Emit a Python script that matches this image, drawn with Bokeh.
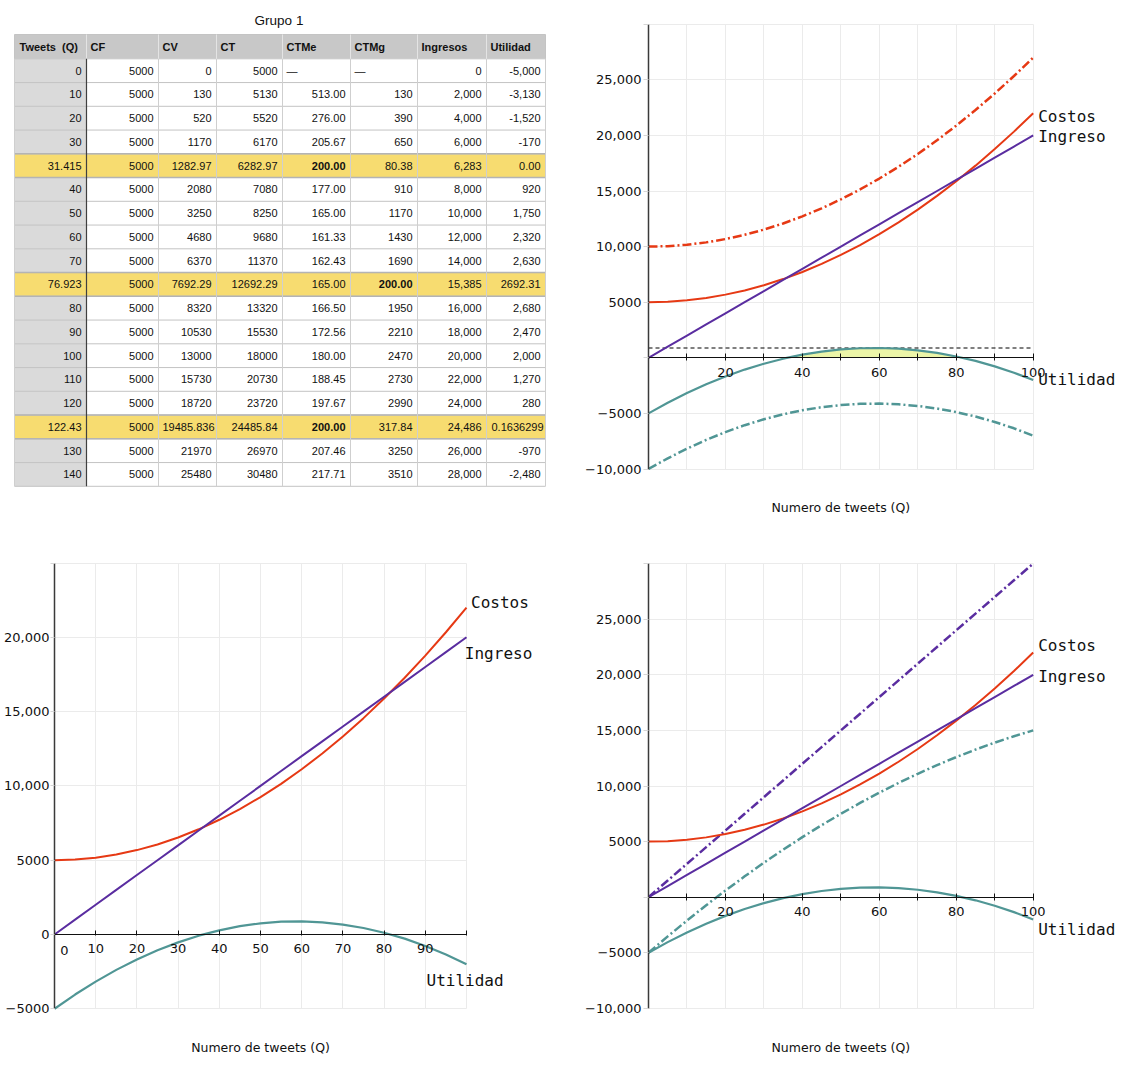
import numpy as np
from bokeh.plotting import figure
from bokeh.models import Range1d, FixedTicker, Label
from bokeh.layouts import row, column
from bokeh.embed import file_html
from bokeh.resources import INLINE
from bokeh.core.properties import value

# ------------------------------------------------------------------ table data
table_title = "Grupo 1"
table_headers = ["Tweets\u00a0\u00a0(Q)", "CF", "CV", "CT", "CTMe", "CTMg", "Ingresos", "Utilidad"]
tweets_q = ["0", "10", "20", "30", "31.415", "40", "50", "60", "70", "76.923",
            "80", "90", "100", "110", "120", "122.43", "130", "140"]
cf = ["5000"] * 18
cv = ["0", "130", "520", "1170", "1282.97", "2080", "3250", "4680", "6370", "7692.29",
      "8320", "10530", "13000", "15730", "18720", "19485.836", "21970", "25480"]
ct = ["5000", "5130", "5520", "6170", "6282.97", "7080", "8250", "9680", "11370", "12692.29",
      "13320", "15530", "18000", "20730", "23720", "24485.84", "26970", "30480"]
ctme = ["—", "513.00", "276.00", "205.67", "200.00", "177.00", "165.00", "161.33", "162.43", "165.00",
        "166.50", "172.56", "180.00", "188.45", "197.67", "200.00", "207.46", "217.71"]
ctmg = ["—", "130", "390", "650", "80.38", "910", "1170", "1430", "1690", "200.00",
        "1950", "2210", "2470", "2730", "2990", "317.84", "3250", "3510"]
ingresos_tab = ["0", "2,000", "4,000", "6,000", "6,283", "8,000", "10,000", "12,000", "14,000", "15,385",
                "16,000", "18,000", "20,000", "22,000", "24,000", "24,486", "26,000", "28,000"]
utilidad_tab = ["-5,000", "-3,130", "-1,520", "-170", "0.00", "920", "1,750", "2,320", "2,630", "2692.31",
                "2,680", "2,470", "2,000", "1,270", "280", "0.1636299", "-970", "-2,480"]
highlight_rows = [4, 9, 15]
bold_cells = [(4, 4), (9, 5), (15, 4)]

# ------------------------------------------------------------------ chart data
Q = [0, 5, 10, 15, 20, 25, 30, 35, 40, 45, 50, 55, 60, 65, 70, 75, 80, 85, 90, 95, 100]
costos = [5000, 5040, 5170, 5380, 5680, 6060, 6530, 7080, 7720, 8440, 9250,
          10140, 11120, 12180, 13330, 14560, 15880, 17280, 18770, 20340, 22000]
ingreso = [0, 1000, 2000, 3000, 4000, 5000, 6000, 7000, 8000, 9000, 10000,
           11000, 12000, 13000, 14000, 15000, 16000, 17000, 18000, 19000, 20000]
utilidad = [-5000, -4040, -3170, -2380, -1680, -1060, -530, -80, 280, 560, 750,
            860, 880, 820, 670, 440, 120, -280, -770, -1340, -2000]
costos_alto = [10000, 10040, 10170, 10380, 10680, 11060, 11530, 12080, 12720, 13440, 14250,
               15140, 16120, 17180, 18330, 19560, 20880, 22280, 23770, 25340, 27000]
utilidad_baja = [-10000, -9040, -8170, -7380, -6680, -6060, -5530, -5080, -4720, -4440, -4250,
                 -4140, -4120, -4180, -4330, -4560, -4880, -5280, -5770, -6340, -7000]
ingreso_alto = [0, 1500, 3000, 4500, 6000, 7500, 9000, 10500, 12000, 13500, 15000,
                16500, 18000, 19500, 21000, 22500, 24000, 25500, 27000, 28500, 30000]
utilidad_alta = [-5000, -3525, -2100, -725, 600, 1875, 3100, 4275, 5400, 6475, 7500,
                 8475, 9400, 10275, 11100, 11875, 12600, 13275, 13900, 14475, 15000]
utilidad_max = 880

x_ticks = [0, 10, 20, 30, 40, 50, 60, 70, 80, 90, 100]
x_tick_labels_a = {20: "20", 40: "40", 60: "60", 80: "80", 100: "100"}
x_tick_labels_b = {10: "10", 20: "20", 30: "30", 40: "40", 50: "50", 60: "60", 70: "70", 80: "80", 90: "90"}
y_ticks_a = [-10000, -5000, 0, 5000, 10000, 15000, 20000, 25000, 30000]
y_tick_labels_a = {-10000: "−10,000", -5000: "−5000", 5000: "5000", 10000: "10,000",
                   15000: "15,000", 20000: "20,000", 25000: "25,000"}
y_ticks_b = [-5000, 0, 5000, 10000, 15000, 20000, 25000]
y_tick_labels_b = {-5000: "−5000", 0: "0", 5000: "5000", 10000: "10,000",
                   15000: "15,000", 20000: "20,000"}
x_title = "Numero de tweets (Q)"

ROJO = "#e63914"
MORADO = "#5a2da0"
VERDE = "#509695"
RELLENO = "#ecf5a8"
GRID = "#ebebeb"
DASHDOT = "9 3 2 3"
AXIS_FONT = "DejaVu Sans"
MONO = "DejaVu Sans Mono"

# ------------------------------------------------------------------ table figure
TOP_H, BOT_H, LEFT_W, RIGHT_W = 548, 540, 580, 562
tp = figure(width=LEFT_W, height=TOP_H, x_range=Range1d(0, LEFT_W), y_range=Range1d(TOP_H, 0),
            output_backend="svg", toolbar_location=None, x_axis_type=None, y_axis_type=None,
            min_border=0, outline_line_color=None)
tp.grid.visible = False

col_edges = [14, 86, 158, 216, 282, 350, 417, 486, 545]
head_top, head_bottom, row_h = 34.0, 58.3, 23.75
columns_data = [tweets_q, cf, cv, ct, ctme, ctmg, ingresos_tab, utilidad_tab]
n_rows = len(tweets_q)
table_bottom = head_bottom + n_rows * row_h

tp.quad(left=[col_edges[0]], right=[col_edges[-1]], top=[head_top], bottom=[head_bottom],
        fill_color="#c8c8c8", line_color=None)
cl, cr, ctp, cb, ccol = [], [], [], [], []
for i in range(n_rows):
    for j in range(len(columns_data)):
        cl.append(col_edges[j]); cr.append(col_edges[j + 1])
        ctp.append(head_bottom + i * row_h); cb.append(head_bottom + (i + 1) * row_h)
        if i in highlight_rows:
            ccol.append("#f7dc70")
        elif j == 0:
            ccol.append("#dadada")
        else:
            ccol.append("#ffffff")
tp.quad(left=cl, right=cr, top=ctp, bottom=cb, fill_color=ccol, line_color=None)

hy = [head_top, head_bottom] + [head_bottom + (i + 1) * row_h for i in range(n_rows)]
tp.segment(x0=[col_edges[0]] * len(hy), x1=[col_edges[-1]] * len(hy), y0=hy, y1=hy,
           line_color="#c4c4c4", line_width=1)
hl_y = []
for i in highlight_rows:
    hl_y += [head_bottom + i * row_h, head_bottom + (i + 1) * row_h]
tp.segment(x0=[col_edges[0]] * len(hl_y), x1=[col_edges[-1]] * len(hl_y), y0=hl_y, y1=hl_y,
           line_color="#b4b4b4", line_width=1.5)
tp.segment(x0=col_edges, x1=col_edges, y0=[head_bottom] * len(col_edges), y1=[table_bottom] * len(col_edges),
           line_color="#cfcfcf", line_width=1)
tp.segment(x0=col_edges[1:-1], x1=col_edges[1:-1], y0=[head_top] * 7, y1=[head_bottom] * 7,
           line_color="#e4e4e4", line_width=1)
tp.segment(x0=[col_edges[0], col_edges[-1]], x1=[col_edges[0], col_edges[-1]], y0=[head_top] * 2,
           y1=[head_bottom] * 2, line_color="#c4c4c4", line_width=1)
tp.segment(x0=[col_edges[1]], x1=[col_edges[1]], y0=[head_bottom], y1=[table_bottom],
           line_color="#404040", line_width=1.2)

tp.text(x=[(col_edges[0] + col_edges[-1]) / 2 - 1], y=[20], text=[table_title], text_align="center",
        text_baseline="middle", text_font=value("Liberation Sans"), text_font_size="13.5px", text_color="#111111")
tp.text(x=[col_edges[0] + 5] + [e + 4 for e in col_edges[1:-1]], y=[(head_top + head_bottom) / 2] * 8,
        text=table_headers, text_align="left", text_baseline="middle", text_font=value("Liberation Sans"),
        text_font_size="11px", text_font_style="bold", text_color="#111111")
nx, ny, nt, bx, by, bt, lx, ly, lt = [], [], [], [], [], [], [], [], []
for i in range(n_rows):
    yc = head_bottom + (i + 0.5) * row_h
    for j, col in enumerate(columns_data):
        s = col[i]
        if s == "—":
            lx.append(col_edges[j] + 4); ly.append(yc); lt.append(s)
        elif (i, j) in bold_cells:
            bx.append(col_edges[j + 1] - 5); by.append(yc); bt.append(s)
        else:
            nx.append(col_edges[j + 1] - (2 if len(s) > 8 else 5)); ny.append(yc); nt.append(s)
tp.text(x=nx, y=ny, text=nt, text_align="right", text_baseline="middle", text_font=value("Liberation Sans"),
        text_font_size="11px", text_color="#111111")
tp.text(x=bx, y=by, text=bt, text_align="right", text_baseline="middle", text_font=value("Liberation Sans"),
        text_font_size="11px", text_font_style="bold", text_color="#111111")
tp.text(x=lx, y=ly, text=lt, text_align="left", text_baseline="middle", text_font=value("Liberation Sans"),
        text_font_size="11px", text_color="#111111")


# ------------------------------------------------------------------ chart helper
def make_chart(width, height, left_px, x_px_per_unit, zero_px, y_px_per_unit, yticks, ylabels, xlabels,
               y_tick_out, y_standoff, x_tick_out, x_standoff):
    frame_w = width - left_px
    x_end = frame_w / x_px_per_unit
    y_end = zero_px / y_px_per_unit
    y_start = -(height - zero_px) / y_px_per_unit
    p = figure(width=width, height=height, x_range=Range1d(0, x_end), y_range=Range1d(y_start, y_end),
               output_backend="svg", toolbar_location=None, outline_line_color=None,
               min_border_left=left_px, min_border_right=0, min_border_top=0, min_border_bottom=0)
    p.xaxis.ticker = FixedTicker(ticks=x_ticks)
    p.yaxis.ticker = FixedTicker(ticks=yticks)
    p.xgrid.ticker = FixedTicker(ticks=x_ticks)
    p.ygrid.ticker = FixedTicker(ticks=yticks)
    p.xgrid.cross_bounds = (yticks[0], yticks[-1])
    p.ygrid.cross_bounds = (x_ticks[0], x_ticks[-1])
    p.grid.grid_line_color = GRID
    p.grid.grid_line_width = 1
    p.xaxis.bounds = (x_ticks[0], x_ticks[-1])
    p.yaxis.bounds = (yticks[0], yticks[-1])
    p.xaxis.major_label_overrides = {t: xlabels.get(t, "") for t in x_ticks}
    p.yaxis.major_label_overrides = {t: ylabels.get(t, "") for t in yticks}
    p.xaxis.fixed_location = 0
    p.xaxis.axis_line_color = "#111111"
    p.xaxis.axis_line_width = 1
    p.xaxis.major_tick_line_color = "#111111"
    p.xaxis.major_tick_in = 4
    p.xaxis.major_tick_out = x_tick_out
    p.xaxis.minor_tick_line_color = None
    p.xaxis.major_label_standoff = x_standoff
    p.yaxis.axis_line_color = "#3a3a3a"
    p.yaxis.axis_line_width = 1.5
    p.yaxis.major_tick_line_color = "#d6d6d6"
    p.yaxis.major_tick_in = 0
    p.yaxis.major_tick_out = y_tick_out
    p.yaxis.minor_tick_line_color = None
    p.yaxis.major_label_standoff = y_standoff
    for ax in (p.xaxis, p.yaxis):
        ax.major_label_text_font = AXIS_FONT
        ax.major_label_text_font_size = "13px"
        ax.major_label_text_color = "#111111"
    return p


def tag(p, x, y, text, size="16px", font=MONO, align="left"):
    p.add_layout(Label(x=x, y=y, text=text, text_font=font, text_font_size=size,
                       text_baseline="middle", text_align=align, text_color="#111111"))


PPU_A = 55.6 / 5000     # px per y unit, charts on the right
PPU_B = 74.3 / 5000     # px per y unit, chart bottom-left

# ------------------------------------------------------------------ chart 1 (top right)
p1 = make_chart(RIGHT_W, TOP_H, 68, 3.847, 357.3, PPU_A, y_ticks_a, y_tick_labels_a, x_tick_labels_a, 5, 2, 3, 7)
p1.varea(x=Q, y1=0, y2=list(np.maximum(np.array(utilidad), 0)), fill_color=RELLENO)
p1.line(Q, [utilidad_max] * len(Q), line_color="#000000", line_width=1.2, line_dash="4 3")
p1.line(Q, costos_alto, line_color=ROJO, line_width=2.5, line_dash=DASHDOT)
p1.line(Q, utilidad_baja, line_color=VERDE, line_width=2.5, line_dash=DASHDOT)
p1.line(Q, costos, line_color=ROJO, line_width=2)
p1.line(Q, ingreso, line_color=MORADO, line_width=2)
p1.line(Q, utilidad, line_color=VERDE, line_width=2.2)
tag(p1, 101.3, 21700, "Costos")
tag(p1, 101.3, 19870, "Ingreso")
tag(p1, 101.3, -1950, "Utilidad")
tag(p1, 50, -13460, x_title, size="12.5px", font=AXIS_FONT, align="center")

# ------------------------------------------------------------------ chart 2 (bottom left)
p2 = make_chart(LEFT_W, BOT_H, 54, 4.12, 386.0, PPU_B, y_ticks_b, y_tick_labels_b, x_tick_labels_b, 4, 1, 1, 8)
p2.line(Q, costos, line_color=ROJO, line_width=2)
p2.line(Q, ingreso, line_color=MORADO, line_width=2)
p2.line(Q, utilidad, line_color=VERDE, line_width=2.2)
p2.add_layout(Label(x=x_ticks[0], y=0, x_offset=10, y_offset=-15.5, text="0", text_font=AXIS_FONT,
                    text_font_size="13px", text_align="center", text_baseline="middle", text_color="#111111"))
tag(p2, 101.1, 22360, "Costos")
tag(p2, 99.6, 18930, "Ingreso")
tag(p2, 90.3, -3100, "Utilidad")
tag(p2, 50, -7600, x_title, size="12.5px", font=AXIS_FONT, align="center")

# ------------------------------------------------------------------ chart 3 (bottom right)
p3 = make_chart(RIGHT_W, BOT_H, 68, 3.847, 348.7, PPU_A, y_ticks_a, y_tick_labels_a, x_tick_labels_a, 5, 2, 3, 7)
p3.line(Q, ingreso_alto, line_color=MORADO, line_width=2.5, line_dash=DASHDOT)
p3.line(Q, utilidad_alta, line_color=VERDE, line_width=2.5, line_dash=DASHDOT)
p3.line(Q, costos, line_color=ROJO, line_width=2)
p3.line(Q, ingreso, line_color=MORADO, line_width=2)
p3.line(Q, utilidad, line_color=VERDE, line_width=2.2)
tag(p3, 101.3, 22610, "Costos")
tag(p3, 101.3, 19870, "Ingreso")
tag(p3, 101.3, -2910, "Utilidad")
tag(p3, 50, -13520, x_title, size="12.5px", font=AXIS_FONT, align="center")

layout = column(row(tp, p1), row(p2, p3))
open("out.html", "w").write(file_html(layout, INLINE))
